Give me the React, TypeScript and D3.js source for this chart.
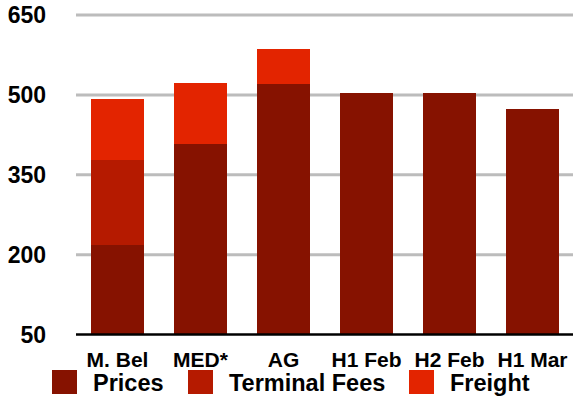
import React from "react";
import * as d3 from "d3";

const categories = ["M. Bel", "MED*", "AG", "H1 Feb", "H2 Feb", "H1 Mar"];
const prices = [219, 407, 521, 503, 503, 473];
const terminalFees = [158, 0, 0, 0, 0, 0];
const freight = [116, 116, 66, 0, 0, 0];
const yTicks = [50, 200, 350, 500, 650];
const seriesNames = ["Prices", "Terminal Fees", "Freight"];
const colors = ["#861200", "#b51a00", "#e32400"];

export default function App() {
  const W = 573, H = 399;
  const left = 76, right = 574, top = 15, bottom = 334.5;
  const x = d3.scaleBand<string>().domain(categories).range([left, right]).paddingInner(0.36).paddingOuter(0.18);
  const y = d3.scaleLinear().domain([50, 650]).range([bottom, top]);
  const rows = categories.map((c, i) => ({ cat: c, Prices: prices[i], "Terminal Fees": terminalFees[i], Freight: freight[i] }));
  const stack = d3.stack<any>().keys(seriesNames).value((d, k) => d[k]);
  const layers = stack(rows);
  const font = "'Liberation Sans', Arial, Helvetica, sans-serif";
  const legendX = [52, 188, 409];
  return (
    <svg width={W} height={H} style={{ position: "absolute", left: 0, top: 0 }}>
      <rect width={W} height={H} fill="#fff" />
      {yTicks.slice(1).map((t) => (
        <line key={t} x1={left} x2={W} y1={y(t)} y2={y(t)} stroke="#bcbcbc" strokeWidth={3} />
      ))}
      {layers.map((layer, li) =>
        layer.map((d, i) => {
          const lo = Math.max(d[0], 50);
          const h = y(lo) - y(d[1]);
          if (h <= 0) return null;
          return (
            <rect key={li + "-" + i} x={x(categories[i])} width={x.bandwidth()} y={y(d[1])} height={h} fill={colors[li]} shapeRendering="crispEdges" />
          );
        })
      )}
      <line x1={left} x2={W} y1={bottom} y2={bottom} stroke="#000" strokeWidth={2.5} />
      {yTicks.map((t) => (
        <text key={t} x={46} y={y(t)} dy="0.36em" textAnchor="end" fontFamily={font} fontWeight="bold" fontSize={23} fill="#000">
          {t}
        </text>
      ))}
      {categories.map((c) => (
        <text key={c} x={(x(c) as number) + x.bandwidth() / 2} y={366.5} textAnchor="middle" fontFamily={font} fontWeight="bold" fontSize={21} fill="#000">
          {c}
        </text>
      ))}
      {seriesNames.map((s, i) => (
        <g key={s}>
          <rect x={legendX[i]} y={370} width={25} height={24} fill={colors[i]} />
          <text x={legendX[i] + 41} y={390.5} fontFamily={font} fontWeight="bold" fontSize={23.5} fill="#000">
            {s}
          </text>
        </g>
      ))}
    </svg>
  );
}
